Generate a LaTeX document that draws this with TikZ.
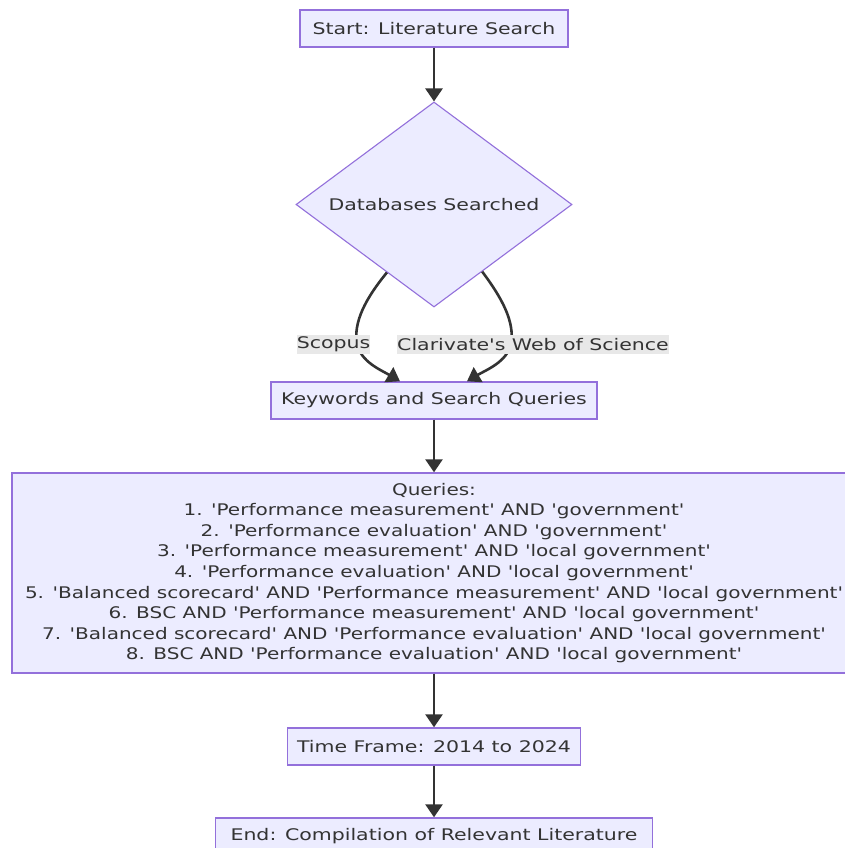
\documentclass[tikz,border=0pt]{standalone}
\usepackage{fontspec}
\newfontfamily\diafont[FakeStretch=1.28]{DejaVu Sans}
\newfontfamily\qfont[FakeStretch=1.25]{DejaVu Sans}
\usetikzlibrary{shapes.geometric,arrows.meta,calc}
\definecolor{boxfill}{HTML}{ECECFF}
\definecolor{boxline}{HTML}{9370DB}
\definecolor{ink}{HTML}{333333}
\definecolor{lblbg}{HTML}{E8E8E8}
\begin{document}
\begin{tikzpicture}[x=1pt,y=-1pt,
  every node/.style={font=\diafont\fontsize{16}{20.6}\selectfont, text=ink},
  flowbox/.style={draw=boxline, fill=boxfill, line width=1.4pt, inner sep=0pt, minimum height=37pt, align=center},
  decision/.style={diamond, draw=boxline, fill=boxfill, line width=1.1pt, inner sep=0pt, minimum width=276pt, minimum height=205pt, aspect=1.35},
  edgelabel/.style={fill=lblbg, inner xsep=0pt, inner ysep=0pt, minimum height=19pt},
  flow/.style={draw=ink, line width=2.6pt, -{Triangle[length=13pt,width=17pt]}}
]
\useasboundingbox (0,0) rectangle (845,848);
\fill[white] (0,0) rectangle (845,848);

\node[flowbox, minimum width=268pt] (start) at (434,28.5) {Start: Literature Search};
\node[decision] (dia) at (434,204.5) {Databases Searched};
\node[flowbox, minimum width=326pt] (kw) at (434,400.5) {Keywords and Search Queries};
\node[flowbox, minimum width=844pt, minimum height=200pt, font=\qfont\fontsize{16}{20.6}\selectfont] (q) at (434,573) {Queries:\\
1. 'Performance measurement' AND 'government'\\
2. 'Performance evaluation' AND 'government'\\
3. 'Performance measurement' AND 'local government'\\
4. 'Performance evaluation' AND 'local government'\\
5. 'Balanced scorecard' AND 'Performance measurement' AND 'local government'\\
6. BSC AND 'Performance measurement' AND 'local government'\\
7. 'Balanced scorecard' AND 'Performance evaluation' AND 'local government'\\
8. BSC AND 'Performance evaluation' AND 'local government'};
\node[flowbox, minimum width=293pt] (time) at (434,746.5) {Time Frame: 2014 to 2024};
\node[flowbox, minimum width=437pt] (end) at (434,836.5) {End: Compilation of Relevant Literature};

\coordinate (ls) at ($(dia.west)!0.66!(dia.south)$);
\coordinate (rs) at ($(dia.east)!0.652!(dia.south)$);
\coordinate (le) at ($(kw.north)+(-34,0)$);
\coordinate (re) at ($(kw.north)+(33,0)$);

\draw[flow] (start) -- (dia.north);
\draw[flow] (ls) .. controls (366,298) and (353,322) .. (357,344) .. controls (361,362) and (381,370) .. (le);
\draw[flow] (rs) .. controls (502,298) and (515,322) .. (511,344) .. controls (507,362) and (486,370) .. (re);
\draw[flow] (kw) -- (q);
\draw[flow] (q) -- (time);
\draw[flow] (time) -- (end);

\node[edgelabel] (lscopus) at (333.5,344.5) {Scopus};
\node[edgelabel] (lwos) at (533,344.5) {Clarivate's Web of Science};
\end{tikzpicture}
\end{document}
